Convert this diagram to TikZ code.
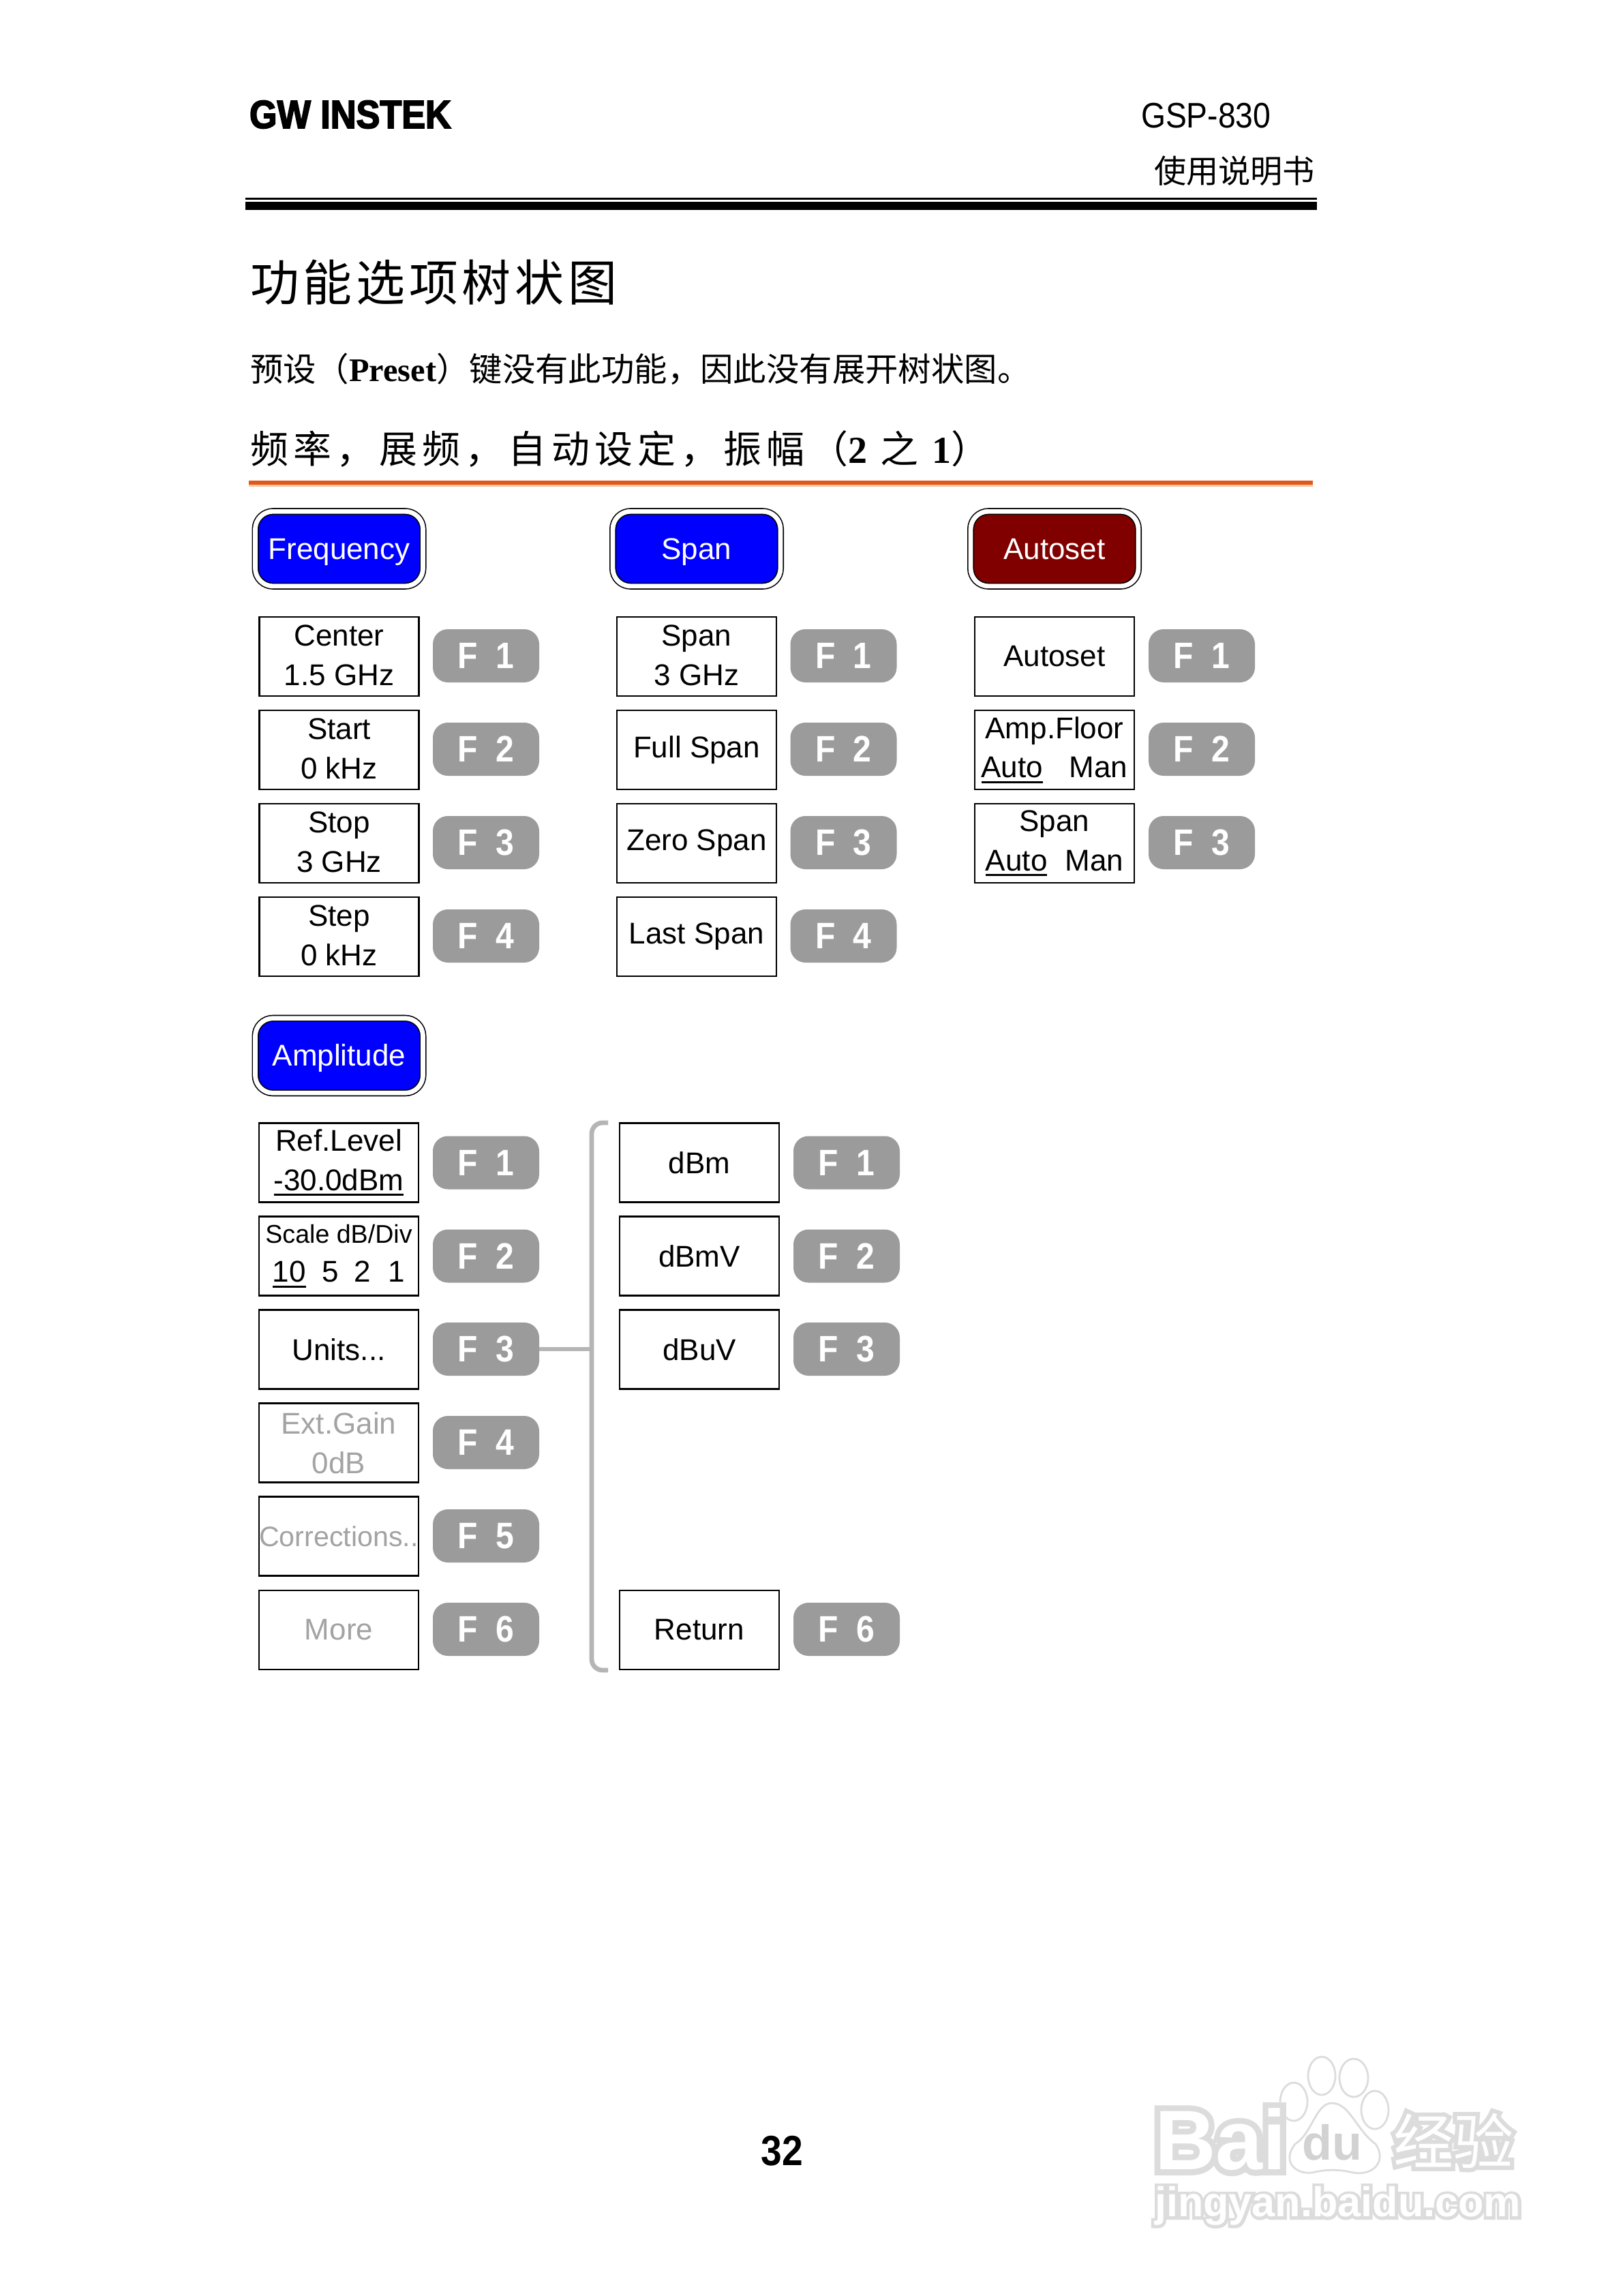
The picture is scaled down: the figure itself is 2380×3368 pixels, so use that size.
\documentclass[tikz,border=0pt]{standalone}
\usepackage{fontspec}
\setmainfont{Liberation Sans}
\newfontfamily\cjk{Noto Sans CJK SC}
\newfontfamily\cjktitle[LetterSpace=8]{Noto Sans CJK SC}
\newfontfamily\cjkhead[LetterSpace=12.8]{Noto Sans CJK SC}
\newfontfamily\latinb{Liberation Serif}
\newfontfamily\logofont[FakeStretch=0.9,BoldFeatures={FakeBold=3}]{Liberation Sans}
\newfontfamily\narrowfont[FakeStretch=0.89]{Liberation Sans}
\newfontfamily\wmout[BoldFeatures={FakeBold=14}]{Liberation Sans}
\newfontfamily\wmoutcjk[FakeBold=14]{Noto Sans CJK SC}
\newcommand{\ulbar}[1]{\setbox0\hbox{#1}\rlap{\rule[-2pt]{\wd0}{0.7pt}}\box0}
\newcommand{\fk}[1]{F\hspace{6.5pt}#1\hspace{2pt}}
\definecolor{dimtext}{HTML}{A3A3A3}
\definecolor{keygray}{HTML}{9B9B9B}
\definecolor{brktgray}{HTML}{B5B5B5}
\definecolor{rulered}{HTML}{E0591A}
\definecolor{rulepale}{HTML}{F6C9A0}
\definecolor{wmgray}{HTML}{DCDCDC}
\definecolor{darkred}{HTML}{800000}
\tikzset{
  softbox/.style={draw=black, line width=0.65pt, fill=white, minimum width=58.5pt, minimum height=29pt,
    inner sep=0pt, outer sep=0pt, align=center, font=\fontsize{11}{14.4}\selectfont},
  twoline/.style={softbox, text depth=1pt},
  dimbox/.style={softbox, text=dimtext},
  fkey/.style={fill=keygray, rounded corners=5.5pt, minimum width=39pt, minimum height=19.5pt,
    inner sep=0pt, outer sep=0pt, text=white, font=\narrowfont\fontsize{13.5}{15}\selectfont\bfseries},
  hardkey/.style={draw=black, line width=0.4pt, double=white, double distance=1.7pt, rounded corners=6.5pt,
    minimum width=61.5pt, minimum height=27.4pt, inner sep=0pt, outer sep=0pt, text=white,
    text height=9.5pt, text depth=1.8pt, font=\fontsize{11}{14.4}\selectfont},
  brktline/.style={draw=brktgray, line width=1.7pt},
  wmline/.style={draw=wmgray, line width=0.7pt, fill=white},
  plaintext/.style={inner sep=0pt, outer sep=0pt, anchor=west},
}
\begin{document}
\begin{tikzpicture}[x=0.25pt, y=-0.25pt]
    \useasboundingbox[fill=white] (0,0) rectangle (2380,3368);
    % page head
    \node[plaintext, font=\logofont\fontsize{14.5}{15}\selectfont\bfseries] (logo) at (366,168) {GW INSTEK};
    \node[plaintext, font=\narrowfont\fontsize{13}{15}\selectfont] (model) at (1674,170) {GSP-830};
    \node[plaintext, anchor=east, font=\cjk\fontsize{11.8}{15}\selectfont] (manual) at (1929,251) {使用说明书};
    \fill[black] (360,290) rectangle (1932,293);
    \fill[black] (360,296) rectangle (1932,308);
    % titles
    \node[plaintext, font=\cjktitle\fontsize{18}{20}\selectfont] (title) at (367,414) {功能选项树状图};
    \node[plaintext, font=\cjk\fontsize{12.1}{15}\selectfont] (note) at (367,541) {预设（{\latinb\bfseries Preset}）键没有此功能，因此没有展开树状图。};
    \node[plaintext, font=\cjkhead\fontsize{14}{16}\selectfont] (head) at (367,659) {频率，展频，自动设定，振幅（{\latinb\bfseries 2} 之 {\latinb\bfseries 1}）};
    \fill[rulered] (365,705) rectangle (1926,711);
    \fill[rulepale] (365,711) rectangle (1926,714);
    % Frequency
    \node[hardkey, fill=blue] (freq) at (497.5,805) {Frequency};
    \node[twoline] (center) at (497.5,963) {Center\\1.5 GHz};
    \node[twoline] (start) at (497.5,1100) {Start\\0 kHz};
    \node[twoline] (stop) at (497.5,1237) {Stop\\3 GHz};
    \node[twoline] (stepf) at (497.5,1374) {Step\\0 kHz};
    \node[fkey] (freqf1) at (713,962) {\fk{1}};
    \node[fkey] (freqf2) at (713,1099) {\fk{2}};
    \node[fkey] (freqf3) at (713,1236) {\fk{3}};
    \node[fkey] (freqf4) at (713,1373) {\fk{4}};
    % Span
    \node[hardkey, fill=blue] (span) at (1022,805) {Span};
    \node[twoline] (spanval) at (1022,963) {Span\\3 GHz};
    \node[softbox] (fullspan) at (1022,1100) {Full Span};
    \node[softbox] (zerospan) at (1022,1237) {Zero Span};
    \node[softbox] (lastspan) at (1022,1374) {Last Span};
    \node[fkey] (spanf1) at (1237.5,962) {\fk{1}};
    \node[fkey] (spanf2) at (1237.5,1099) {\fk{2}};
    \node[fkey] (spanf3) at (1237.5,1236) {\fk{3}};
    \node[fkey] (spanf4) at (1237.5,1373) {\fk{4}};
    % Autoset
    \node[hardkey, fill=darkred] (autoset) at (1547,805) {Autoset};
    \node[softbox] (autoval) at (1547,963) {Autoset};
    \node[softbox] (ampfloor) at (1547,1100) {Amp.Floor\\\ulbar{Auto}\hspace{9.7pt}Man};
    \node[softbox] (spanauto) at (1547,1237) {Span\\\ulbar{Auto}\hspace{6.5pt}Man};
    \node[fkey] (autof1) at (1763,962) {\fk{1}};
    \node[fkey] (autof2) at (1763,1099) {\fk{2}};
    \node[fkey] (autof3) at (1763,1236) {\fk{3}};
    % Amplitude
    \node[hardkey, fill=blue] (ampl) at (497.5,1548.5) {Amplitude};
    \node[softbox] (reflevel) at (497,1705.5) {Ref.Level\\\ulbar{-30.0dBm}};
    \node[softbox] (scale) at (497,1842.5) {{\fontsize{9.4}{12}\selectfont Scale dB/Div}\\\ulbar{10}\hspace{6pt}5\hspace{5.5pt}2\hspace{6.5pt}1};
    \node[softbox] (units) at (497,1979.5) {Units...};
    \node[dimbox] (extgain) at (497,2116.5) {Ext.Gain\\0dB};
    \node[dimbox, font=\fontsize{10.3}{14.4}\selectfont] (corr) at (497,2253.5) {Corrections..};
    \node[dimbox] (more) at (497,2391) {More};
    \node[fkey] (amplf1) at (713,1705.5) {\fk{1}};
    \node[fkey] (amplf2) at (713,1842.5) {\fk{2}};
    \node[fkey] (amplf3) at (713,1979) {\fk{3}};
    \node[fkey] (amplf4) at (713,2116) {\fk{4}};
    \node[fkey] (amplf5) at (713,2253) {\fk{5}};
    \node[fkey] (amplf6) at (713,2390) {\fk{6}};
    % Units submenu
    \coordinate (brkttop) at (892,1647);
    \coordinate (brktbot) at (892,2450);
    \coordinate (brktmid) at (868,1979);
    \draw[brktline, rounded corners=4pt] (brkttop) -| (brktmid) |- (brktbot);
    \draw[brktline] (amplf3.east) -- (brktmid);
    \node[softbox] (dbm) at (1026,1705.5) {dBm};
    \node[softbox] (dbmv) at (1026,1842.5) {dBmV};
    \node[softbox] (dbuv) at (1026,1979.5) {dBuV};
    \node[softbox] (return) at (1026,2391) {Return};
    \node[fkey] (subf1) at (1242,1705.5) {\fk{1}};
    \node[fkey] (subf2) at (1242,1842.5) {\fk{2}};
    \node[fkey] (subf3) at (1242,1979) {\fk{3}};
    \node[fkey] (subf6) at (1242,2390) {\fk{6}};
    % page number
    \node[font=\narrowfont\fontsize{15.5}{20}\selectfont\bfseries, inner sep=0pt] (pagenum) at (1147,3155) {32};
    % watermark
    \draw[wmline] (1898,3083) ellipse (20 and 28);
    \draw[wmline] (1939,3045) ellipse (20 and 28);
    \draw[wmline] (1986,3048) ellipse (21 and 28);
    \draw[wmline] (2017,3095) ellipse (20 and 28);
    \node[plaintext, text=wmgray, font=\wmout\fontsize{31}{32}\selectfont\bfseries] (wmbaiback) at (1694,3138) {Bai};
    \node[plaintext, text=white, font=\fontsize{31}{32}\selectfont\bfseries] (wmbai) at (1694,3138) {Bai};
    \draw[wmline] (1954,3085) .. controls (1930,3085) and (1925,3130) .. (1900,3145)
        .. controls (1880,3170) and (1900,3190) .. (1925,3187)
        .. controls (1945,3182) and (1965,3182) .. (1985,3187)
        .. controls (2015,3192) and (2035,3170) .. (2018,3145)
        .. controls (1990,3125) and (1980,3085) .. (1954,3085);
    \node[text=gray!35, inner sep=0pt, font=\fontsize{18}{20}\selectfont\bfseries] (wmdu) at (1954,3143) {du};
    \node[plaintext, text=wmgray, font=\wmoutcjk\fontsize{22}{24}\selectfont] (wmcjkback) at (2044,3140) {经验};
    \node[plaintext, text=white, font=\cjk\fontsize{22}{24}\selectfont] (wmcjk) at (2044,3140) {经验};
    \node[plaintext, text=wmgray, font=\wmout\fontsize{15.3}{18}\selectfont\bfseries] (wmurlback) at (1694,3236) {jingyan.baidu.com};
    \node[plaintext, text=white, font=\fontsize{15.3}{18}\selectfont\bfseries] (wmurl) at (1694,3236) {jingyan.baidu.com};
\end{tikzpicture}
\end{document}
